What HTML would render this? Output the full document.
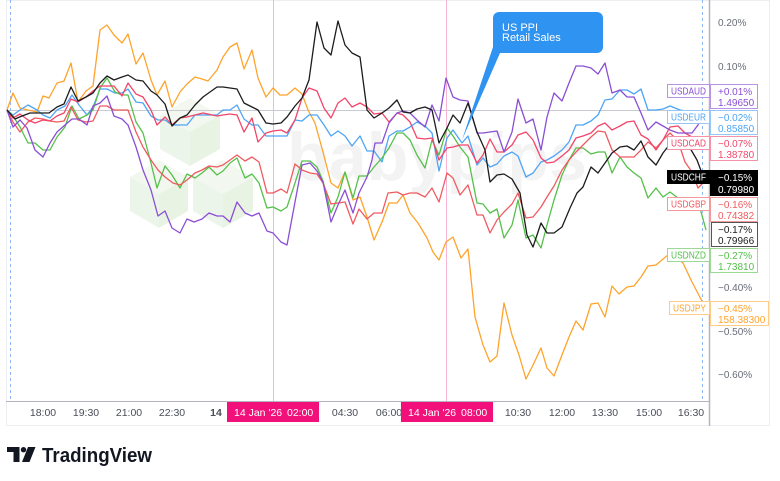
<!DOCTYPE html>
<html><head><meta charset="utf-8"><style>
html,body{margin:0;padding:0;background:#fff;width:780px;height:481px;overflow:hidden}
svg{display:block}
text{font-family:"Liberation Sans",sans-serif}
</style></head><body>
<svg width="780" height="481" viewBox="0 0 780 481" xmlns="http://www.w3.org/2000/svg">
<rect width="780" height="481" fill="#fff"/>
<rect x="6.5" y="0.5" width="763" height="425" fill="none" stroke="#eceef2"/>
<!-- watermark -->
<g opacity="0.9">
<polygon points="190,98 220,115 190,132 160,115" fill="#f1f8ef"/>
<polygon points="160,115 190,132 190,166 160,149" fill="#ebf5e8"/>
<polygon points="190,132 220,115 220,149 190,166" fill="#e6f2e2"/>
<polygon points="159,160 188,177 159,194 130,177" fill="#f1f8ef"/>
<polygon points="130,177 159,194 159,228 130,211" fill="#ebf5e8"/>
<polygon points="159,194 188,177 188,211 159,228" fill="#e6f2e2"/>
<polygon points="223,160 253,177 223,194 193,177" fill="#f1f8ef"/>
<polygon points="193,177 223,194 223,228 193,211" fill="#ebf5e8"/>
<polygon points="223,194 253,177 253,211 223,228" fill="#e6f2e2"/>
</g>
<text x="287" y="180" font-size="68" font-weight="700" fill="#f3f3f4" textLength="300" lengthAdjust="spacingAndGlyphs">babypips</text>
<!-- zero line -->
<line x1="7" y1="110.5" x2="709" y2="110.5" stroke="#c9cbd1" stroke-width="1"/>
<!-- event lines -->
<line x1="273.5" y1="0" x2="273.5" y2="401" stroke="#f8b4d2" stroke-width="1"/>
<line x1="446.5" y1="0" x2="446.5" y2="401" stroke="#f8b4d2" stroke-width="1"/>
<line x1="10.5" y1="0" x2="10.5" y2="401" stroke="#8fb9f5" stroke-width="1" stroke-dasharray="3,3"/>
<line x1="702.5" y1="0" x2="702.5" y2="401" stroke="#8fb9f5" stroke-width="1" stroke-dasharray="3,3"/>
<!-- series -->
<g fill="none" stroke-width="1.3" stroke-linejoin="round">
<polyline stroke="#ffa32b" points="7,110 13,93 20,108 28,110 37,112 43,96 49,98 57,83 64,81 71,63 78,102 86,91 93,86 100,30 107,25 114,35 122,43 128,34 136,64 143,53 151,80 157,95 165,81 172,107 180,92 187,84 195,77 202,79 208,81 217,70 223,57 230,47 237,43 244,69 252,50 258,78 266,97 273,88 280,95 287,95 295,88 302,94 308,110 315,123 323,152 331,183 338,188 345,172 353,200 360,197 367,217 374,240 382,222 389,203 397,203 403,195 410,213 418,223 427,238 433,252 439,260 446,242 453,237 461,258 468,249 475,317 483,345 490,362 497,356 504,303 512,335 519,355 526,379 533,365 541,348 547,368 554,376 562,355 569,337 576,321 583,330 591,304 598,303 605,317 612,286 619,294 627,287 634,286 641,277 648,266 656,265 663,259 668,255 676,258 683,263 692,282 703,303"/>
<polyline stroke="#4ea5f5" points="7,110 13,115 20,110 28,105 37,110 43,115 50,118 57,110 65,106 72,95 79,105 87,115 93,107 100,89 107,89 115,93 122,93 128,89 136,102 143,103 151,116 158,120 165,120 172,125 180,125 187,125 195,115 210,115 217,115 223,110 230,110 237,105 244,119 252,125 258,125 266,136 273,136 281,136 287,136 295,120 302,121 309,115 317,115 324,125 331,136 338,131 345,136 352,146 360,136 367,151 374,151 382,162 389,136 397,131 403,131 410,127 417,122 425,126 432,133 439,171 447,138 453,130 462,143 468,136 477,165 483,158 490,167 497,164 504,156 512,152 518,156 526,177 533,173 541,162 547,160 554,156 562,150 569,142 576,125 583,125 591,121 598,115 605,100 612,99 620,90 627,90 634,94 641,89 648,110 656,110 663,109 670,106 680,110 692,112 703,118"/>
<polyline stroke="#55c04a" points="7,110 13,116 20,127 28,143 35,143 43,150 50,150 57,137 65,127 72,106 79,119 87,115 93,110 100,88 107,78 115,92 122,95 128,95 136,122 143,133 151,163 157,188 165,166 172,175 180,188 187,174 195,178 202,173 209,167 217,175 223,171 230,163 237,158 245,178 252,174 259,183 267,208 273,207 281,211 287,207 295,183 302,161 310,161 317,167 323,181 331,213 338,197 345,172 353,198 359,176 367,176 374,167 382,158 389,148 397,133 403,133 410,140 417,155 425,168 432,140 439,155 447,128 453,136 460,147 468,157 477,203 483,204 490,213 497,209 504,238 512,225 518,200 526,238 533,235 541,248 547,225 554,200 562,175 569,160 576,148 583,148 591,154 598,152 605,152 612,173 620,157 627,167 634,173 641,178 648,198 656,188 663,197 670,192 678,198 685,200 692,200 700,208 706,230"/>
<polyline stroke="#f05a5f" points="7,110 13,122 20,132 28,122 35,118 43,119 50,121 57,122 64,121 71,107 78,120 86,122 93,121 100,106 107,106 114,110 122,110 128,110 136,132 143,147 151,160 158,170 165,177 173,183 180,185 187,180 195,173 202,170 209,166 217,167 223,165 230,160 237,155 245,161 252,157 259,162 267,193 273,193 281,189 287,193 295,164 302,170 310,173 317,174 323,183 331,204 338,203 345,202 353,224 359,209 367,219 374,213 382,213 388,193 397,192 403,195 410,193 417,193 425,197 432,188 439,202 447,173 453,178 460,195 468,185 477,215 483,215 490,233 497,220 504,212 512,204 518,193 526,218 533,217 541,207 547,197 554,186 562,170 569,160 576,152 583,145 591,137 598,131 605,132 612,150 620,157 627,157 634,157 641,150 648,142 656,148 663,140 670,133 678,141 685,162 692,172 698,188 703,183"/>
<polyline stroke="#f2456a" points="7,110 13,118 20,114 28,120 35,123 43,120 50,121 57,116 64,113 71,99 78,102 86,97 93,91 100,86 107,86 114,86 122,96 128,83 136,94 143,97 151,110 157,125 165,117 172,125 180,118 187,117 195,115 203,113 217,116 223,115 230,114 237,115 244,132 252,118 258,142 266,133 273,131 281,130 287,133 295,120 302,98 309,88 317,91 324,108 331,118 338,103 345,98 352,107 360,103 367,107 374,114 382,113 389,122 397,113 403,115 410,122 417,138 425,139 432,138 439,160 447,148 453,147 460,145 468,145 477,163 483,155 490,139 497,152 504,152 512,145 518,135 526,132 533,140 541,158 547,163 554,162 562,156 569,150 576,138 583,136 591,133 598,126 605,123 612,130 620,126 627,122 634,121 641,135 648,139 656,150 663,140 670,127 678,126 685,133 692,137 698,140 703,142"/>
<polyline stroke="#8a4fd4" points="7,110 13,127 20,120 27,128 35,150 43,157 50,143 57,132 65,125 72,119 79,119 87,125 93,106 100,103 107,96 114,116 122,119 128,125 136,147 143,170 151,190 158,216 165,211 172,228 180,233 187,219 194,222 202,219 209,213 217,216 223,216 230,222 237,202 245,213 252,216 259,213 267,231 273,233 281,242 287,245 295,202 302,165 310,163 317,171 323,182 331,222 338,205 345,190 353,213 359,193 367,177 372,160 375,143 382,143 389,123 397,113 403,111 410,113 417,120 425,127 432,105 439,121 446,78 453,97 460,100 468,101 477,133 483,133 490,132 497,131 504,152 512,132 518,99 526,123 533,119 541,150 547,117 554,93 562,101 569,83 576,66 583,66 591,68 598,74 605,63 612,93 620,90 627,97 634,97 641,113 648,130 656,122 663,126 670,130 678,133 685,133 692,133 698,125 703,110"/>
<polyline stroke="#1c1c1c" points="7,110 15,119 22,116 30,113 38,113 49,113 57,107 64,104 71,87 78,101 86,97 93,93 100,83 107,76 114,80 122,77 128,75 136,80 143,81 151,91 157,95 165,104 172,126 180,118 187,115 195,105 203,97 217,87 223,87 237,89 244,103 252,107 258,110 266,123 273,124 281,123 287,117 295,106 302,98 309,80 317,22 324,48 331,55 338,21 345,45 352,53 360,57 367,110 374,118 382,113 389,108 397,100 403,112 410,113 417,109 425,107 432,110 439,143 447,128 453,115 460,123 468,103 477,132 485,150 490,182 497,175 504,174 512,179 520,193 527,235 533,247 541,223 547,233 554,233 562,227 570,208 577,193 583,187 591,167 598,173 605,163 612,153 620,147 627,146 634,150 641,141 648,157 656,165 663,153 670,144 680,140 690,148 697,160 703,176"/>
</g>
<!-- callout -->
<rect x="493" y="12" width="110" height="41" rx="6" fill="#2f93f2"/>
<polygon points="493,30 493,47 462,140 500,53 520,53 520,30" fill="#2f93f2"/>
<text x="502" y="31" font-size="11" fill="#fff">US PPI</text>
<text x="502" y="41" font-size="11" fill="#fff">Retail Sales</text>
<!-- axes -->
<line x1="6" y1="401.5" x2="710" y2="401.5" stroke="#b2b5be" stroke-width="1"/>
<line x1="709.5" y1="0" x2="709.5" y2="426" stroke="#b2b5be" stroke-width="1.5"/>
<!-- price axis labels -->
<g font-size="10" fill="#6a6d78">
<text x="718" y="26">0.20%</text>
<text x="718" y="70">0.10%</text>
<text x="718" y="291">−0.40%</text>
<text x="718" y="335">−0.50%</text>
<text x="718" y="378">−0.60%</text>
</g>
<!-- time axis -->
<g font-size="10.5" fill="#4a4d57" text-anchor="middle">
<text x="43" y="416">18:00</text>
<text x="86" y="416">19:30</text>
<text x="129" y="416">21:00</text>
<text x="172" y="416">22:30</text>
<text x="216" y="416" font-weight="700">14</text>
<text x="345" y="416">04:30</text>
<text x="389" y="416">06:00</text>
<text x="518" y="416">10:30</text>
<text x="562" y="416">12:00</text>
<text x="605" y="416">13:30</text>
<text x="649" y="416">15:00</text>
<text x="691" y="416">16:30</text>
</g>
<rect x="227" y="402" width="92" height="20" fill="#f2107a"/>
<text x="234" y="416" font-size="10.5" fill="#fff">14 Jan '26</text>
<text x="287" y="416" font-size="10.5" fill="#fff">02:00</text>
<rect x="401" y="402" width="92" height="20" fill="#f2107a"/>
<text x="408" y="416" font-size="10.5" fill="#fff">14 Jan '26</text>
<text x="461" y="416" font-size="10.5" fill="#fff">08:00</text>
<!-- series labels -->
<g font-size="10">
<!-- AUD -->
<rect x="667.5" y="84.5" width="42" height="13" fill="#fff" stroke="#b794e6"/>
<text x="671" y="94.5" fill="#8a4fd4" textLength="35" lengthAdjust="spacingAndGlyphs">USDAUD</text>
<rect x="710.5" y="84.5" width="47" height="24" fill="#fff" stroke="#b794e6"/>
<text x="718" y="95" fill="#8a4fd4">+0.01%</text>
<text x="718" y="106" fill="#8a4fd4">1.49650</text>
<!-- EUR -->
<rect x="667.5" y="110.5" width="42" height="13" fill="#fff" stroke="#95c8f8"/>
<text x="671" y="120.5" fill="#4ea5f5" textLength="35" lengthAdjust="spacingAndGlyphs">USDEUR</text>
<rect x="710.5" y="110.5" width="47" height="24" fill="#fff" stroke="#95c8f8"/>
<text x="718" y="121" fill="#4ea5f5">−0.02%</text>
<text x="718" y="132" fill="#4ea5f5">0.85850</text>
<!-- CAD -->
<rect x="667.5" y="136.5" width="42" height="13" fill="#fff" stroke="#f592a8"/>
<text x="671" y="146.5" fill="#f2456a" textLength="35" lengthAdjust="spacingAndGlyphs">USDCAD</text>
<rect x="710.5" y="136.5" width="47" height="24" fill="#fff" stroke="#f592a8"/>
<text x="718" y="147" fill="#f2456a">−0.07%</text>
<text x="718" y="158" fill="#f2456a">1.38780</text>
<!-- CHF -->
<rect x="667" y="170" width="43" height="14" fill="#000"/>
<text x="671" y="180.5" fill="#fff" textLength="35" lengthAdjust="spacingAndGlyphs">USDCHF</text>
<rect x="710" y="170" width="48" height="26" fill="#000"/>
<text x="718" y="181" fill="#fff">−0.15%</text>
<text x="718" y="193" fill="#fff">0.79980</text>
<!-- GBP -->
<rect x="667.5" y="197.5" width="42" height="13" fill="#fff" stroke="#f59a9c"/>
<text x="671" y="207.5" fill="#f05a5f" textLength="35" lengthAdjust="spacingAndGlyphs">USDGBP</text>
<rect x="710.5" y="197.5" width="47" height="24" fill="#fff" stroke="#f59a9c"/>
<text x="718" y="208" fill="#f05a5f">−0.16%</text>
<text x="718" y="219" fill="#f05a5f">0.74382</text>
<!-- CHF compare -->
<rect x="711.5" y="222.5" width="46" height="24" fill="#fff" stroke="#555"/>
<text x="718" y="233" fill="#1c1c1c">−0.17%</text>
<text x="718" y="244" fill="#1c1c1c">0.79966</text>
<!-- NZD -->
<rect x="667.5" y="248.5" width="42" height="13" fill="#fff" stroke="#9cd994"/>
<text x="671" y="258.5" fill="#55c04a" textLength="35" lengthAdjust="spacingAndGlyphs">USDNZD</text>
<rect x="710.5" y="248.5" width="47" height="24" fill="#fff" stroke="#9cd994"/>
<text x="718" y="259" fill="#55c04a">−0.27%</text>
<text x="718" y="270" fill="#55c04a">1.73810</text>
<!-- JPY -->
<rect x="669.5" y="301.5" width="40" height="13" fill="#fff" stroke="#ffcc88"/>
<text x="673" y="311.5" fill="#ffa32b" textLength="33" lengthAdjust="spacingAndGlyphs">USDJPY</text>
<rect x="710.5" y="301.5" width="58" height="24" fill="#fff" stroke="#ffcc88"/>
<text x="718" y="312" fill="#ffa32b">−0.45%</text>
<text x="718" y="323" fill="#ffa32b">158.38300</text>
</g>
<!-- logo -->
<path d="M7 447 H19.5 V462 H13.5 V452 H7 Z" fill="#131722"/>
<circle cx="23.5" cy="449.7" r="2.7" fill="#131722"/>
<polygon points="28,447 35.5,447 29.5,462 22,462" fill="#131722"/>
<text x="42" y="462" font-size="20" font-weight="700" fill="#131722" textLength="110" lengthAdjust="spacingAndGlyphs">TradingView</text>
</svg>
</body></html>
